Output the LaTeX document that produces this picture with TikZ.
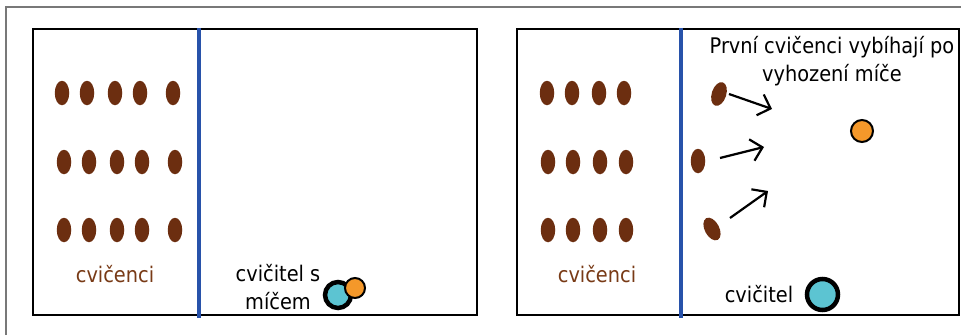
\documentclass[tikz,border=0pt]{standalone}
\usepackage{fontspec}
\setmainfont{DejaVu Sans Condensed}
\usetikzlibrary{shapes.geometric,arrows.meta}
\definecolor{hrac}{RGB}{108,46,16}
\definecolor{hractext}{RGB}{120,58,22}
\definecolor{modra}{RGB}{40,82,170}
\definecolor{azur}{RGB}{92,196,210}
\definecolor{oranz}{RGB}{244,152,42}
\definecolor{seda}{RGB}{120,120,120}
\tikzset{
  hracs/.style={ellipse, fill=hrac, draw=none, minimum width=14.5pt, minimum height=24.5pt, inner sep=0pt},
  lbl/.style={font=\fontsize{21.5}{28}\selectfont, inner sep=0pt},
  hriste/.style={draw=black, line width=2.4pt},
  cara/.style={draw=modra, line width=3.2pt},
  sip/.style={draw=black, line width=2.2pt, -{Straight Barb[length=11pt,width=22pt,line width=2.2pt]}},
  ucitel/.style={circle, fill=azur, draw=black, line width=4.5pt, inner sep=0pt},
  mic/.style={circle, fill=oranz, draw=black, line width=2pt, inner sep=0pt},
}
\begin{document}
\begin{tikzpicture}[x=1pt,y=-1pt]
\useasboundingbox (0,0) rectangle (961,335);
% outer frame
\draw[seda, line width=2pt] (6,335) -- (6,7) -- (961,7);
% left field
\draw[hriste] (33,29) rectangle (477,315);
\draw[cara] (199,28) -- (199,318);
\foreach \x [count=\i] in {62,87,115,140,173} {\node[hracs] (La\i) at (\x,93) {};}
\foreach \x [count=\i] in {64,89,117,142,175} {\node[hracs] (Lb\i) at (\x,162) {};}
\foreach \x [count=\i] in {64,89,117,142,175} {\node[hracs] (Lc\i) at (\x,230) {};}
\node[lbl, text=hractext, anchor=base] (Lcv) at (115,282) {cvičenci};
\node[lbl, align=center] (Lteach) at (278,287.5) {cvičitel s\\míčem};
\node[ucitel, minimum size=26pt] (Lu) at (338,295) {};
\node[mic, minimum size=20pt] (Lm) at (355,288) {};
% right field
\draw[hriste] (517,29) rectangle (959,315);
\draw[cara] (681,28) -- (681,318);
\foreach \x [count=\i] in {547,572,599,624} {\node[hracs] (Ra\i) at (\x,93) {};}
\foreach \x [count=\i] in {548,573,600,626} {\node[hracs] (Rb\i) at (\x,162) {};}
\foreach \x [count=\i] in {548,573,600,626} {\node[hracs] (Rc\i) at (\x,230) {};}
\node[hracs, rotate=-18] (R1) at (719,94) {};
\node[hracs] (R2) at (698,161) {};
\node[hracs, rotate=28] (R3) at (712,229) {};
\coordinate (A1s) at (729,94);
\coordinate (A1e) at (772,109);
\coordinate (A2s) at (720,158);
\coordinate (A2e) at (764,147);
\coordinate (A3s) at (730,218);
\coordinate (A3e) at (768,191);
\draw[sip] (A1s) -- (A1e);
\draw[sip] (A2s) -- (A2e);
\draw[sip] (A3s) -- (A3e);
\node[lbl, align=center] (Rtxt) at (832,61) {První cvičenci vybíhají po\\vyhození míče};
\node[mic, minimum size=22pt] (Rm) at (862,131) {};
\node[lbl, text=hractext, anchor=base] (Rcv) at (597,282) {cvičenci};
\node[lbl, anchor=base] (Rteach) at (759,302) {cvičitel};
\node[ucitel, minimum size=31pt] (Ru) at (822.5,294.5) {};
\end{tikzpicture}
\end{document}
